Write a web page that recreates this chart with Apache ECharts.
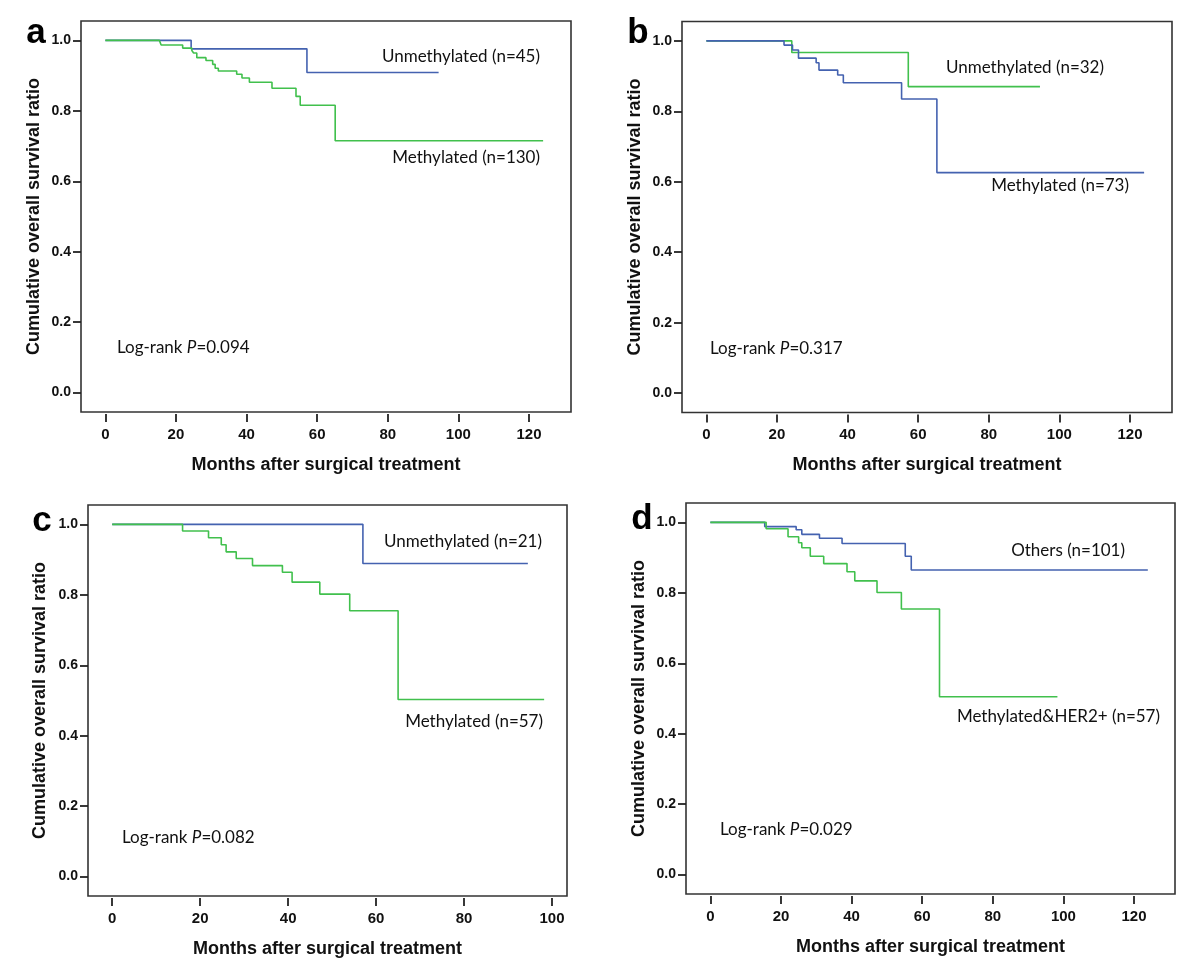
<!DOCTYPE html>
<html>
<head>
<meta charset="utf-8">
<script src="https://cdn.jsdelivr.net/npm/echarts@6/dist/echarts.min.js"></script>
<style>
  html, body { margin: 0; padding: 0; background: #fff; }
  #chart { width: 1200px; height: 970px; }
</style>
</head>
<body>
<div id="chart"></div>
<script>
// tick values
const xTicksLong = [0, 20, 40, 60, 80, 100, 120]
const xTicksShort = [0, 20, 40, 60, 80, 100]
const yTicks = [0, 0.2, 0.4, 0.6, 0.8, 1.0]

// panel a
const aUnmethTime = [0, 24.3, 57.1, 94.4]
const aUnmethSurv = [1, 0.976, 0.909, 0.909]
const aMethTime = [0, 15.3, 15.8, 21.9, 24.5, 25.0, 25.9, 28.5, 30.4, 31.1, 32.0, 37.2, 38.7, 40.8, 47.2, 54.0, 55.2, 65.1, 124.0]
const aMethSurv = [1, 0.995, 0.987, 0.978, 0.971, 0.964, 0.951, 0.943, 0.932, 0.921, 0.913, 0.904, 0.893, 0.881, 0.864, 0.841, 0.816, 0.715, 0.715]

// panel b
const bUnmethTime = [0, 24.2, 57.2, 94.5]
const bUnmethSurv = [1, 0.967, 0.870, 0.870]
const bMethTime = [0, 22.0, 24.4, 26.1, 31.1, 31.9, 37.2, 38.8, 55.3, 65.3, 124.0]
const bMethSurv = [1, 0.988, 0.974, 0.951, 0.938, 0.917, 0.903, 0.881, 0.835, 0.626, 0.626]

// panel c
const cUnmethTime = [0, 57.0, 94.5]
const cUnmethSurv = [1, 0.889, 0.889]
const cMethTime = [0, 16.0, 21.9, 24.8, 25.9, 28.2, 31.9, 38.7, 40.9, 47.2, 54.0, 65.0, 98.2]
const cMethSurv = [1, 0.981, 0.962, 0.942, 0.922, 0.903, 0.883, 0.864, 0.836, 0.802, 0.755, 0.503, 0.503]

// panel d
const dOthersTime = [0, 15.4, 24.3, 25.9, 30.9, 37.3, 55.2, 56.9, 123.9]
const dOthersSurv = [1, 0.988, 0.979, 0.966, 0.955, 0.940, 0.904, 0.865, 0.865]
const dHer2Time = [0, 15.8, 22.0, 25.0, 25.9, 28.3, 32.1, 38.7, 40.9, 47.2, 54.1, 64.9, 98.3]
const dHer2Surv = [1, 0.982, 0.959, 0.942, 0.928, 0.904, 0.883, 0.860, 0.834, 0.801, 0.754, 0.505, 0.505]

const BLUE = '#4462b0'
const GREEN = '#41c04d'
const AXIS_FONT = '"Liberation Sans", Arial, sans-serif'
const NOTE_FONT = 'Lato, "Open Sans", sans-serif'

const zip = (t, s) => t.map((v, i) => [v, s[i]])

const panels = [
  { grid: { left: 81, top: 21, width: 490, height: 391 }, xMin: -6.9, xMax: 131.9, ticks: xTicksLong, yGap: 38,
    curves: [[aUnmethTime, aUnmethSurv, BLUE], [aMethTime, aMethSurv, GREEN]] },
  { grid: { left: 682, top: 21.5, width: 490, height: 391 }, xMin: -6.9, xMax: 131.9, ticks: xTicksLong, yGap: 38,
    curves: [[bUnmethTime, bUnmethSurv, GREEN], [bMethTime, bMethSurv, BLUE]] },
  { grid: { left: 88, top: 505, width: 479, height: 391 }, xMin: -5.5, xMax: 103.4, ticks: xTicksShort, yGap: 39,
    curves: [[cUnmethTime, cUnmethSurv, BLUE], [cMethTime, cMethSurv, GREEN]] },
  { grid: { left: 686, top: 503, width: 489, height: 391 }, xMin: -6.9, xMax: 131.6, ticks: xTicksLong, yGap: 38,
    curves: [[dOthersTime, dOthersSurv, BLUE], [dHer2Time, dHer2Surv, GREEN]] }
]

const grids = [], xAxes = [], yAxes = [], series = []
panels.forEach((p, i) => {
  grids.push(Object.assign({ show: true, borderColor: '#333', borderWidth: 1.6, backgroundColor: '#fff' }, p.grid))
  xAxes.push({
    type: 'value', gridIndex: i, min: p.xMin, max: p.xMax, offset: 2,
    name: 'Months after surgical treatment', nameLocation: 'middle', nameGap: 42,
    nameTextStyle: { fontFamily: AXIS_FONT, fontWeight: 'bold', fontSize: 18, color: '#111' },
    axisLine: { show: false, onZero: false },
    axisTick: { show: true, length: 8, lineStyle: { color: '#222', width: 1.8 }, customValues: p.ticks },
    axisLabel: { fontFamily: AXIS_FONT, fontWeight: 'bold', fontSize: 15, color: '#111', margin: 13, customValues: p.ticks },
    splitLine: { show: false }
  })
  yAxes.push({
    type: 'value', gridIndex: i, min: -0.055, max: 1.055,
    name: 'Cumulative overall survival ratio', nameLocation: 'middle', nameGap: p.yGap,
    nameTextStyle: { fontFamily: AXIS_FONT, fontWeight: 'bold', fontSize: 18, color: '#111' },
    axisLine: { show: false, onZero: false },
    axisTick: { show: true, length: 8, lineStyle: { color: '#222', width: 1.8 }, customValues: yTicks },
    axisLabel: { fontFamily: AXIS_FONT, fontWeight: 'bold', fontSize: 14, color: '#111', margin: 10,
      customValues: yTicks, formatter: v => v.toFixed(1) },
    splitLine: { show: false }
  })
  p.curves.forEach(([t, s, color]) => {
    series.push({
      type: 'line', step: 'end', xAxisIndex: i, yAxisIndex: i, symbol: 'none',
      lineStyle: { color, width: 1.6 }, data: zip(t, s)
    })
  })
})

const note = (x, y, text, align) => ({
  type: 'text', x, y,
  style: { text, fontFamily: NOTE_FONT, fontSize: 17, fill: '#111', align: align || 'right', verticalAlign: 'middle' }
})
const logRank = (x, y, p) => ({
  type: 'text', x, y,
  style: {
    text: '{n|Log-rank }{i|P}{n|=' + p + '}', verticalAlign: 'middle', align: 'left',
    rich: {
      n: { fontFamily: NOTE_FONT, fontSize: 17, fill: '#111' },
      i: { fontFamily: NOTE_FONT, fontSize: 17, fontStyle: 'italic', fill: '#111' }
    }
  }
})
const letter = (x, y, text) => ({
  type: 'text', x, y,
  style: { text, fontFamily: AXIS_FONT, fontWeight: 'bold', fontSize: 35, fill: '#000', align: 'center', verticalAlign: 'middle' }
})

const chart = echarts.init(document.getElementById('chart'))
chart.setOption({
  animation: false,
  backgroundColor: '#fff',
  grid: grids,
  xAxis: xAxes,
  yAxis: yAxes,
  series,
  graphic: [
    letter(36, 33, 'a'), letter(638, 33, 'b'), letter(42, 521, 'c'), letter(642, 519, 'd'),
    note(540, 57, 'Unmethylated (n=45)'), note(540, 158, 'Methylated (n=130)'), logRank(117, 348, '0.094'),
    note(1104, 68, 'Unmethylated (n=32)'), note(1129, 186, 'Methylated (n=73)'), logRank(710, 349, '0.317'),
    note(542, 542, 'Unmethylated (n=21)'), note(543, 722, 'Methylated (n=57)'), logRank(122, 838, '0.082'),
    note(1125, 551, 'Others (n=101)'), note(1160, 717, 'Methylated&HER2+ (n=57)'), logRank(720, 830, '0.029')
  ]
})
window.addEventListener('resize', () => chart.resize())
</script>
</body>
</html>
